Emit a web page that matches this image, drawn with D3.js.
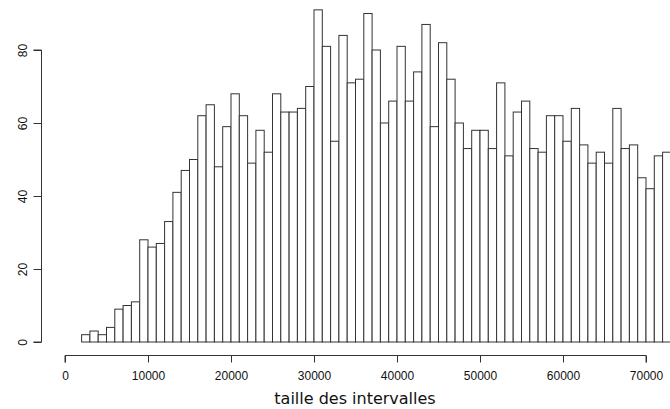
<!DOCTYPE html>
<html>
<head>
<meta charset="utf-8">
<script src="https://cdn.jsdelivr.net/npm/d3@7"></script>
<style>
  html, body { margin: 0; padding: 0; background: #fff; }
  svg { display: block; }
</style>
</head>
<body>
<svg id="chart" width="670" height="409"></svg>
<script>
// Histogram of interval sizes, bins of width 1000 starting at 2000
const binStart = 2000;
const binWidth = 1000;
const counts = [
  2, 3, 2, 4, 9, 10, 11, 28, 26, 27,
  33, 41, 47, 50, 62, 65, 48, 59, 68, 62,
  49, 58, 52, 68, 63, 63, 64, 70, 91, 81,
  55, 84, 71, 72, 90, 80, 60, 66, 81, 66,
  74, 87, 59, 82, 72, 60, 53, 58, 58, 53,
  71, 51, 63, 66, 53, 52, 62, 62, 55, 64,
  54, 49, 52, 49, 64, 53, 54, 45, 42, 51,
  52
];
const xTicks = [0, 10000, 20000, 30000, 40000, 50000, 60000, 70000];
const yTicks = [0, 20, 40, 60, 80];
const xLabel = "taille des intervalles";

const bins = counts.map((c, i) => ({
  x0: binStart + i * binWidth,
  x1: binStart + (i + 1) * binWidth,
  count: c
}));

const svg = d3.select("#chart");
const x = d3.scaleLinear().domain([0, 70000]).range([65, 646]);
const y = d3.scaleLinear().domain([0, 80]).range([342, 50]);

const ink = "#333";
const tickFont = "'Liberation Sans', Arial, sans-serif";

// bars
svg.append("g")
  .selectAll("rect")
  .data(bins)
  .join("rect")
  .attr("x", d => x(d.x0))
  .attr("y", d => y(d.count))
  .attr("width", d => x(d.x1) - x(d.x0))
  .attr("height", d => y(0) - y(d.count))
  .attr("fill", "#fff")
  .attr("stroke", ink)
  .attr("stroke-width", 1);

// x axis
const xAxis = svg.append("g")
  .attr("transform", "translate(0,355.5)")
  .call(d3.axisBottom(x).tickValues(xTicks).tickSize(7).tickPadding(9).tickFormat(d3.format("d")));
xAxis.select(".domain").attr("stroke", ink).attr("d", `M${x(0)},7V0H${x(70000)}V7`);
xAxis.selectAll(".tick line").attr("stroke", ink);
xAxis.selectAll(".tick text")
  .attr("fill", "#111")
  .style("font-family", tickFont)
  .style("font-size", "12px");

// y axis
const yAxis = svg.append("g")
  .attr("transform", "translate(41.5,0)")
  .call(d3.axisLeft(y).tickValues(yTicks).tickSize(8).tickFormat(d3.format("d")));
yAxis.select(".domain").attr("stroke", ink).attr("d", `M-8,${y(80)}H0V${y(0)}H-8`);
yAxis.selectAll(".tick line").attr("stroke", ink);
yAxis.selectAll(".tick text")
  .attr("fill", "#111")
  .attr("x", null).attr("dy", null)
  .attr("text-anchor", "middle")
  .attr("transform", "translate(-15,0) rotate(-90)")
  .style("font-family", tickFont)
  .style("font-size", "12px");

// axis title
svg.append("text")
  .attr("x", 355)
  .attr("y", 404)
  .attr("text-anchor", "middle")
  .attr("fill", "#111")
  .style("font-family", "'DejaVu Sans', sans-serif")
  .style("font-size", "16px")
  .text(xLabel);
</script>
</body>
</html>
